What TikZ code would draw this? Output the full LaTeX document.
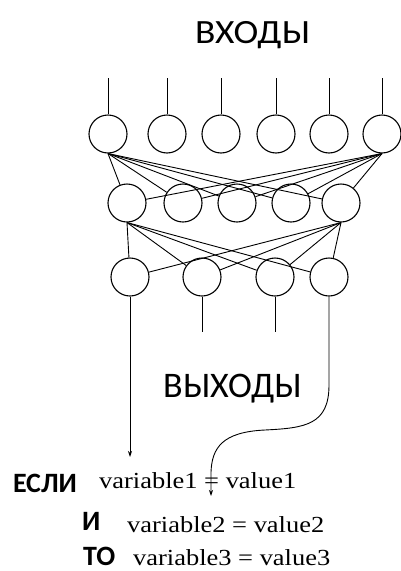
\documentclass[tikz,border=0pt]{standalone}
\usepackage{fontspec}
\setmainfont{Liberation Serif}[FakeStretch=1.15]
\newfontfamily\cyrsans{Carlito}
\newfontfamily\cyrwide{Carlito}[FakeStretch=1.1]
\usetikzlibrary{arrows.meta}
\begin{document}
\begin{tikzpicture}[x=1pt,y=-1pt,
  neuron/.style={circle,draw,line width=1.1pt,minimum size=38pt,inner sep=0pt},
  wire/.style={line width=0.9pt},
  tiparrow/.style={line width=0.9pt,-{Stealth[length=6pt,width=4pt]}},
  kw/.style={font=\cyrsans\bfseries\fontsize{28}{28}\selectfont,anchor=base west,inner sep=0pt},
  rule/.style={font=\fontsize{23}{23}\selectfont,anchor=base west,inner sep=0pt}]
\useasboundingbox (0,0) rectangle (400,571);
% input layer
\foreach \n/\x in {1/108,2/167,3/221,4/276,5/329,6/382}{
  \node[neuron] (i\n) at (\x,134) {};
  \coordinate (t\n) at (\x,78);
  \draw[wire] (t\n) -- (i\n.north);
}
% hidden layer
\foreach \n/\x in {1/127,2/183,3/237,4/291,5/341}{
  \node[neuron] (h\n) at (\x,203) {};
}
% output layer
\foreach \n/\x in {1/130,2/202,3/275,4/329}{
  \node[neuron] (o\n) at (\x,277) {};
}
% input -> hidden
\foreach \n in {1,...,5}{
  \draw[wire] (i1.south) -- (h\n);
  \draw[wire] (i6.south) -- (h\n);
}
% hidden -> output
\foreach \n in {1,...,4}{
  \draw[wire] (h1.south) -- (o\n);
  \draw[wire] (h5.south) -- (o\n);
}
% output lines
\coordinate (e2) at (202,332);
\coordinate (e3) at (275,332);
\draw[wire] (o2.south) -- (e2);
\draw[wire] (o3.south) -- (e3);
\coordinate (a1) at (130,457);
\draw[tiparrow] (o1.south) -- (a1);
\coordinate (a4) at (211,496);
\draw[tiparrow] (o4.south) -- (329,385) .. controls (329,425) and (305,428) .. (265,430)
  .. controls (222,432) and (212,448) .. (211,472) -- (a4);
% labels
\node[font=\cyrwide\fontsize{34}{34}\selectfont,anchor=base west,inner sep=0pt] (inputs) at (195,43) {ВХОДЫ};
\node[font=\cyrsans\fontsize{36}{36}\selectfont,anchor=base west,inner sep=0pt] (outputs) at (163,397) {ВЫХОДЫ};
\node[kw] (if) at (13,492) {ЕСЛИ};
\node[rule] (r1) at (99,488) {variable1 = value1};
\node[kw] (and) at (82,530) {И};
\node[rule] (r2) at (127,532) {variable2 = value2};
\node[kw] (then) at (83,565) {ТО};
\node[rule] (r3) at (133,565) {variable3 = value3};
\end{tikzpicture}
\end{document}
